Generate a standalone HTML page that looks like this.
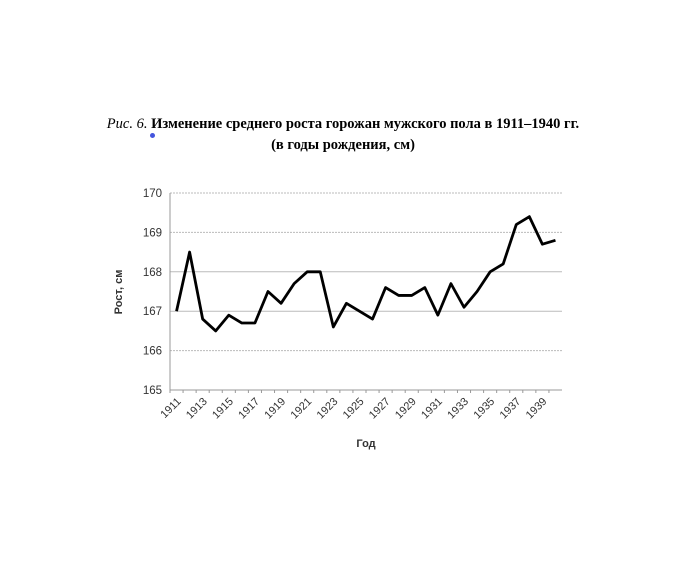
<!DOCTYPE html>
<html><head><meta charset="utf-8"><style>
body{margin:0;background:#fff;width:696px;height:564px;overflow:hidden}
.t{position:absolute;left:0;width:686px;text-align:center;font-family:"Liberation Serif",serif;font-weight:bold;font-size:14.5px;color:#000}
</style></head><body>
<div class="t" style="top:116px"><i style="font-weight:normal">Рис. 6.</i> Изменение среднего роста горожан мужского пола в 1911–1940 гг.</div>
<div class="t" style="top:137px">(в годы рождения, см)</div>
<div style="position:absolute;left:150px;top:133px;width:5px;height:5px;border-radius:50%;background:#4455dd"></div>
<svg id="c" width="696" height="564" style="position:absolute;left:0;top:0" font-family="Liberation Sans, sans-serif"></svg>
<script>
const years=[1911,1912,1913,1914,1915,1916,1917,1918,1919,1920,1921,1922,1923,1924,1925,1926,1927,1928,1929,1930,1931,1932,1933,1934,1935,1936,1937,1938,1939,1940];
const heights=[167,168.5,166.8,166.5,166.9,166.7,166.7,167.5,167.2,167.7,168.0,168.0,166.6,167.2,167.0,166.8,167.6,167.4,167.4,167.6,166.9,167.7,167.1,167.5,168.0,168.2,169.2,169.4,168.7,168.8];
const yTicks=[165,166,167,168,169,170];
const svg=document.getElementById('c'),NS='http://www.w3.org/2000/svg';
const L=170,R=562,T=193,B=390,ymin=165,ymax=170;
const step=(R-L)/years.length;
const X=i=>L+step*(i+0.5), Y=v=>B-(v-ymin)/(ymax-ymin)*(B-T);
function mk(tag,at,txt){const e=document.createElementNS(NS,tag);for(const k in at)e.setAttribute(k,at[k]);if(txt!=null)e.textContent=txt;svg.appendChild(e);return e;}
yTicks.forEach(v=>{
 const g=mk('line',{x1:L,x2:R,y1:Y(v),y2:Y(v),stroke:v==165?'#999':'#bbb','stroke-width':1,'stroke-dasharray':(v==170||v==169||v==166)?'2,1':''});
 
 
 const t=mk('text',{x:L-8,y:Y(v)+4,'text-anchor':'end','font-size':11.5,fill:'#333'},v);
 
 
});
const ax=mk('line',{x1:L,x2:L,y1:T,y2:B,stroke:'#999','stroke-width':1});


years.forEach((y,i)=>{
 const tk=mk('line',{x1:L+step*i,x2:L+step*i,y1:B,y2:B+3,stroke:'#999'});
 
 
 if(i%2==0){
  const t=mk('text',{x:X(i)+5,y:B+12,'text-anchor':'end','font-size':11,fill:'#333',transform:`rotate(-45 ${X(i)+5} ${B+12})`},y);
  
  
 }
});
const p=mk('polyline',{points:heights.map((v,i)=>X(i)+','+Y(v)).join(' '),fill:'none',stroke:'#000','stroke-width':2.8,'stroke-linejoin':'round'});


const xt=mk('text',{x:366,y:447,'text-anchor':'middle','font-size':11,'font-weight':'bold',fill:'#333'},'Год');


const yt=mk('text',{x:122,y:292,'text-anchor':'middle','font-size':11,'font-weight':'bold',fill:'#333',transform:'rotate(-90 122 292)'},'Рост, см');


</script>
</body></html>
